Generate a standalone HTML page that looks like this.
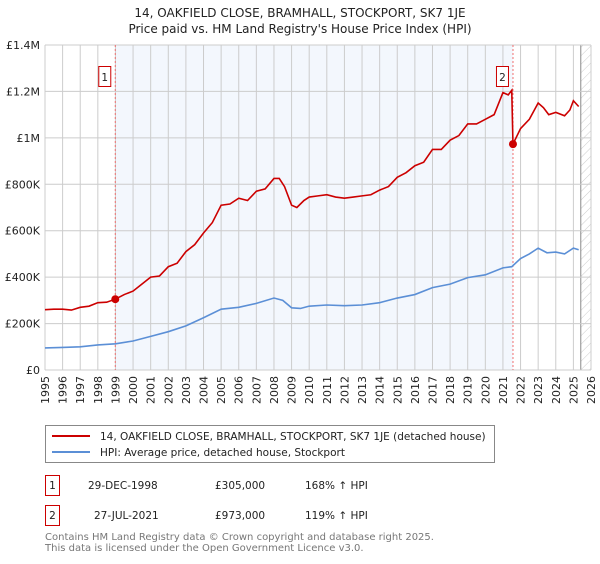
<!DOCTYPE html>
<html><head><meta charset="utf-8"><style>
body{margin:0;background:#fff;font-family:"DejaVu Sans","Liberation Sans",sans-serif;}
svg text{font-family:"DejaVu Sans","Liberation Sans",sans-serif;}
</style></head><body>
<svg id="chart" width="600" height="560" xmlns="http://www.w3.org/2000/svg">
<defs><pattern id="hatch" width="6" height="6" patternUnits="userSpaceOnUse" patternTransform="rotate(45)"><line x1="0" y1="0" x2="0" y2="6" stroke="#ccc" stroke-width="1"/></pattern></defs>
<text x="300" y="17" text-anchor="middle" font-size="12" fill="#222">14, OAKFIELD CLOSE, BRAMHALL, STOCKPORT, SK7 1JE</text>
<text x="300" y="33" text-anchor="middle" font-size="12" fill="#222">Price paid vs. HM Land Registry's House Price Index (HPI)</text>
<g id="plot"></g>
<g>
<rect x="45.5" y="425.5" width="449" height="37" fill="#fff" stroke="#888"/>
<line x1="52" y1="436" x2="90" y2="436" stroke="#cc0000" stroke-width="2"/>
<text x="100" y="440" font-size="10.5" fill="#222">14, OAKFIELD CLOSE, BRAMHALL, STOCKPORT, SK7 1JE (detached house)</text>
<line x1="52" y1="452" x2="90" y2="452" stroke="#5b8fd6" stroke-width="2"/>
<text x="100" y="456" font-size="10.5" fill="#222">HPI: Average price, detached house, Stockport</text>
</g>
<g font-size="10.5" fill="#222">
<rect x="45.5" y="475.5" width="14" height="20" fill="#fff" stroke="#cc0000"/>
<text x="52.5" y="489" text-anchor="middle">1</text>
<text x="88" y="489">29-DEC-1998</text><text x="215" y="489">£305,000</text><text x="305" y="489">168% ↑ HPI</text>
<rect x="45.5" y="505.5" width="14" height="20" fill="#fff" stroke="#cc0000"/>
<text x="52.5" y="519" text-anchor="middle">2</text>
<text x="94" y="519">27-JUL-2021</text><text x="215" y="519">£973,000</text><text x="305" y="519">119% ↑ HPI</text>
</g>
<text x="45" y="540" font-size="10" fill="#777">Contains HM Land Registry data © Crown copyright and database right 2025.</text>
<text x="45" y="551" font-size="10" fill="#777">This data is licensed under the Open Government Licence v3.0.</text>
</svg>
<script>
const yTicks=[0,200000,400000,600000,800000,1000000,1200000,1400000];
const yLabels=["£0","£200K","£400K","£600K","£800K","£1M","£1.2M","£1.4M"];
const xYears=[1995,1996,1997,1998,1999,2000,2001,2002,2003,2004,2005,2006,2007,2008,2009,2010,2011,2012,2013,2014,2015,2016,2017,2018,2019,2020,2021,2022,2023,2024,2025,2026];
const saleDates=[1998.99,2021.57];
const salePrices=[305000,973000];
const propT=[1995,1995.5,1996,1996.5,1997,1997.5,1998,1998.5,1998.99,1999.5,2000,2000.5,2001,2001.5,2002,2002.5,2003,2003.5,2004,2004.5,2005,2005.5,2006,2006.5,2007,2007.5,2008,2008.3,2008.6,2009,2009.3,2009.7,2010,2010.5,2011,2011.5,2012,2012.5,2013,2013.5,2014,2014.5,2015,2015.5,2016,2016.5,2017,2017.5,2018,2018.5,2019,2019.5,2020,2020.5,2021,2021.3,2021.5,2021.57,2022,2022.5,2023,2023.3,2023.6,2024,2024.5,2024.8,2025,2025.3];
const propV=[260,262,262,258,270,275,290,292,305,325,340,370,400,405,445,460,510,540,590,635,710,715,740,730,770,780,825,825,790,710,700,730,745,750,755,745,740,745,750,755,775,790,830,850,880,895,950,950,990,1010,1060,1060,1080,1100,1195,1185,1205,973,1040,1080,1150,1130,1100,1110,1095,1120,1160,1135];
const hpiT=[1995,1996,1997,1998,1999,2000,2001,2002,2003,2004,2005,2006,2007,2008,2008.5,2009,2009.5,2010,2011,2012,2013,2014,2015,2016,2017,2018,2019,2020,2021,2021.5,2022,2022.5,2023,2023.5,2024,2024.5,2025,2025.3];
const hpiV=[95,97,100,108,113,125,145,165,190,225,262,270,287,310,300,268,265,275,280,277,280,290,310,325,355,370,398,410,440,445,480,500,525,505,508,500,525,518];
const L=45,R=591,T=45,B=370;
const X=t=>L+(t-1995)*(R-L)/31;
const Y=v=>B-v*(B-T)/1400000;
const NS="http://www.w3.org/2000/svg";
const g=document.getElementById('plot');
function mk(tag,a){const e=document.createElementNS(NS,tag);for(const k in a)e.setAttribute(k,a[k]);g.appendChild(e);return e;}
const shade=mk('rect',{x:X(saleDates[0]),y:T,width:X(saleDates[1])-X(saleDates[0]),height:B-T,fill:'#eef3fc',opacity:0.7});


const hx=X(2025.42);
const hatch=mk('rect',{x:hx,y:T,width:R-hx,height:B-T,fill:'url(#hatch)'});


mk('line',{x1:hx,y1:T,x2:hx,y2:B,stroke:'#888','stroke-width':1});
xYears.forEach(yr=>{const l=mk('line',{x1:X(yr),y1:T,x2:X(yr),y2:B,stroke:'#ccc','stroke-width':1});


const tx=X(yr)+4,ty=B+6;
const t=mk('text',{x:tx,y:ty,'text-anchor':'end','font-size':'11',fill:'#222',transform:'rotate(-90 '+tx+' '+ty+')'});t.textContent=yr;

});
yTicks.forEach((v,i)=>{const l=mk('line',{x1:L,y1:Y(v),x2:R,y2:Y(v),stroke:'#ccc','stroke-width':1});


const t=mk('text',{x:L-5,y:Y(v)+4,'text-anchor':'end','font-size':'11',fill:'#222'});t.textContent=yLabels[i];

});
saleDates.forEach((d,i)=>{const l=mk('line',{x1:X(d),y1:T,x2:X(d),y2:B,stroke:'#f07070','stroke-width':1,'stroke-dasharray':'2,2'});


const r=mk('rect',{x:X(d)-16.5,y:66.5,width:12,height:20,fill:'#fff',stroke:'#cc0000'});


const t=mk('text',{x:X(d)-10.5,y:81,'text-anchor':'middle','font-size':'10.5',fill:'#222'});t.textContent=String(i+1);

});
const hp=mk('polyline',{points:hpiT.map((t,i)=>X(t)+','+Y(hpiV[i]*1000)).join(' '),fill:'none',stroke:'#5b8fd6','stroke-width':1.6});


const pp=mk('polyline',{points:propT.map((t,i)=>X(t)+','+Y(propV[i]*1000)).join(' '),fill:'none',stroke:'#cc0000','stroke-width':1.6});


saleDates.forEach((d,i)=>{const c=mk('circle',{cx:X(d),cy:Y(salePrices[i]),r:4,fill:'#cc0000'});

});
</script>
</body></html>
